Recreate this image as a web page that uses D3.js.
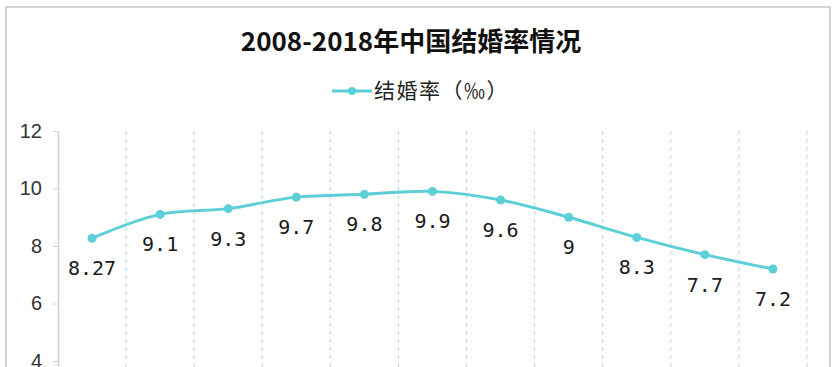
<!DOCTYPE html>
<html lang="zh">
<head>
<meta charset="UTF-8">
<title>2008-2018年中国结婚率情况</title>
<script src="https://d3js.org/d3.v7.min.js"></script>
<style>
    body { margin: 0; background: #fff; }
    svg { display: block; }
</style>
</head>
<body>
<div id="chart"></div>
<script>
// data
const years = ["2008", "2009", "2010", "2011", "2012", "2013", "2014", "2015", "2016", "2017", "2018"];
const rates = [8.27, 9.1, 9.3, 9.7, 9.8, 9.9, 9.6, 9, 8.3, 7.7, 7.2];
const yTicks = [0, 2, 4, 6, 8, 10, 12];
const title = "2008-2018年中国结婚率情况";
const seriesName = "结婚率（‰）";

const W = 837, H = 367;
const lineColor = "#5ccfd9";

const svg = d3.select("#chart").append("svg")
    .attr("width", W)
    .attr("height", H);

// outer frame of the chart area
svg.append("path")
    .attr("d", "M6,367 V7 H830 V367")
    .attr("fill", "none")
    .attr("stroke", "#d4d4d4")
    .attr("stroke-width", 2);

// scales: plot runs past the bottom of the window
const x = d3.scaleBand().domain(years).range([58, 807]).padding(0);
const y = d3.scaleLinear().domain([0, 12]).range([476, 131]);

// dashed vertical separators between categories
svg.append("g")
    .selectAll("line")
    .data(years)
    .join("line")
    .attr("x1", d => x(d) + x.bandwidth())
    .attr("x2", d => x(d) + x.bandwidth())
    .attr("y1", y(12))
    .attr("y2", y(0))
    .attr("stroke", "#b9dfe6")
    .attr("stroke-width", 1.2)
    .attr("stroke-dasharray", "4,4");

// y axis
const yAxis = svg.append("g")
    .attr("transform", "translate(58,0)")
    .call(d3.axisLeft(y).tickValues(yTicks).tickSize(5).tickPadding(11).tickSizeOuter(0));
yAxis.select(".domain").attr("stroke", "#d0d0d0").attr("stroke-width", 1.5);
yAxis.selectAll(".tick line").attr("stroke", "#d0d0d0");
yAxis.selectAll(".tick text")
    .attr("fill", "#333")
    .style("font-family", "'Liberation Sans', Arial, sans-serif")
    .style("font-size", "20px");

// smoothed line
const line = d3.line()
    .x((d, i) => x(years[i]) + x.bandwidth() / 2)
    .y(d => y(d))
    .curve(d3.curveCatmullRom);

svg.append("path")
    .datum(rates)
    .attr("d", line)
    .attr("fill", "none")
    .attr("stroke", lineColor)
    .attr("stroke-width", 3);

svg.append("g")
    .selectAll("circle")
    .data(rates)
    .join("circle")
    .attr("cx", (d, i) => x(years[i]) + x.bandwidth() / 2)
    .attr("cy", d => y(d))
    .attr("r", 4.5)
    .attr("fill", lineColor);

// value labels under each point
svg.append("g")
    .selectAll("text")
    .data(rates)
    .join("text")
    .attr("x", (d, i) => x(years[i]) + x.bandwidth() / 2)
    .attr("y", d => y(d) + 37)
    .attr("text-anchor", "middle")
    .attr("fill", "#1a1a1a")
    .style("font-family", "'DejaVu Sans Mono', monospace")
    .style("font-size", "20px")
    .text(d => String(d));

// title
svg.append("text")
    .attr("x", 411)
    .attr("y", 51)
    .attr("text-anchor", "middle")
    .attr("fill", "#111")
    .style("font-family", "'Noto Sans CJK SC', sans-serif")
    .style("font-weight", "bold")
    .style("font-size", "26px")
    .text(title);

// legend
const legend = svg.append("g");
legend.append("line")
    .attr("x1", 332).attr("x2", 372)
    .attr("y1", 91).attr("y2", 91)
    .attr("stroke", lineColor)
    .attr("stroke-width", 3);
legend.append("circle")
    .attr("cx", 352).attr("cy", 91).attr("r", 4)
    .attr("fill", lineColor);
legend.append("text")
    .attr("x", 374)
    .attr("y", 98)
    .attr("fill", "#222")
    .style("font-family", "'Noto Sans CJK SC', sans-serif")
    .style("font-size", "21px")
    .style("letter-spacing", "1.5px")
    .text(seriesName);
</script>
</body>
</html>
